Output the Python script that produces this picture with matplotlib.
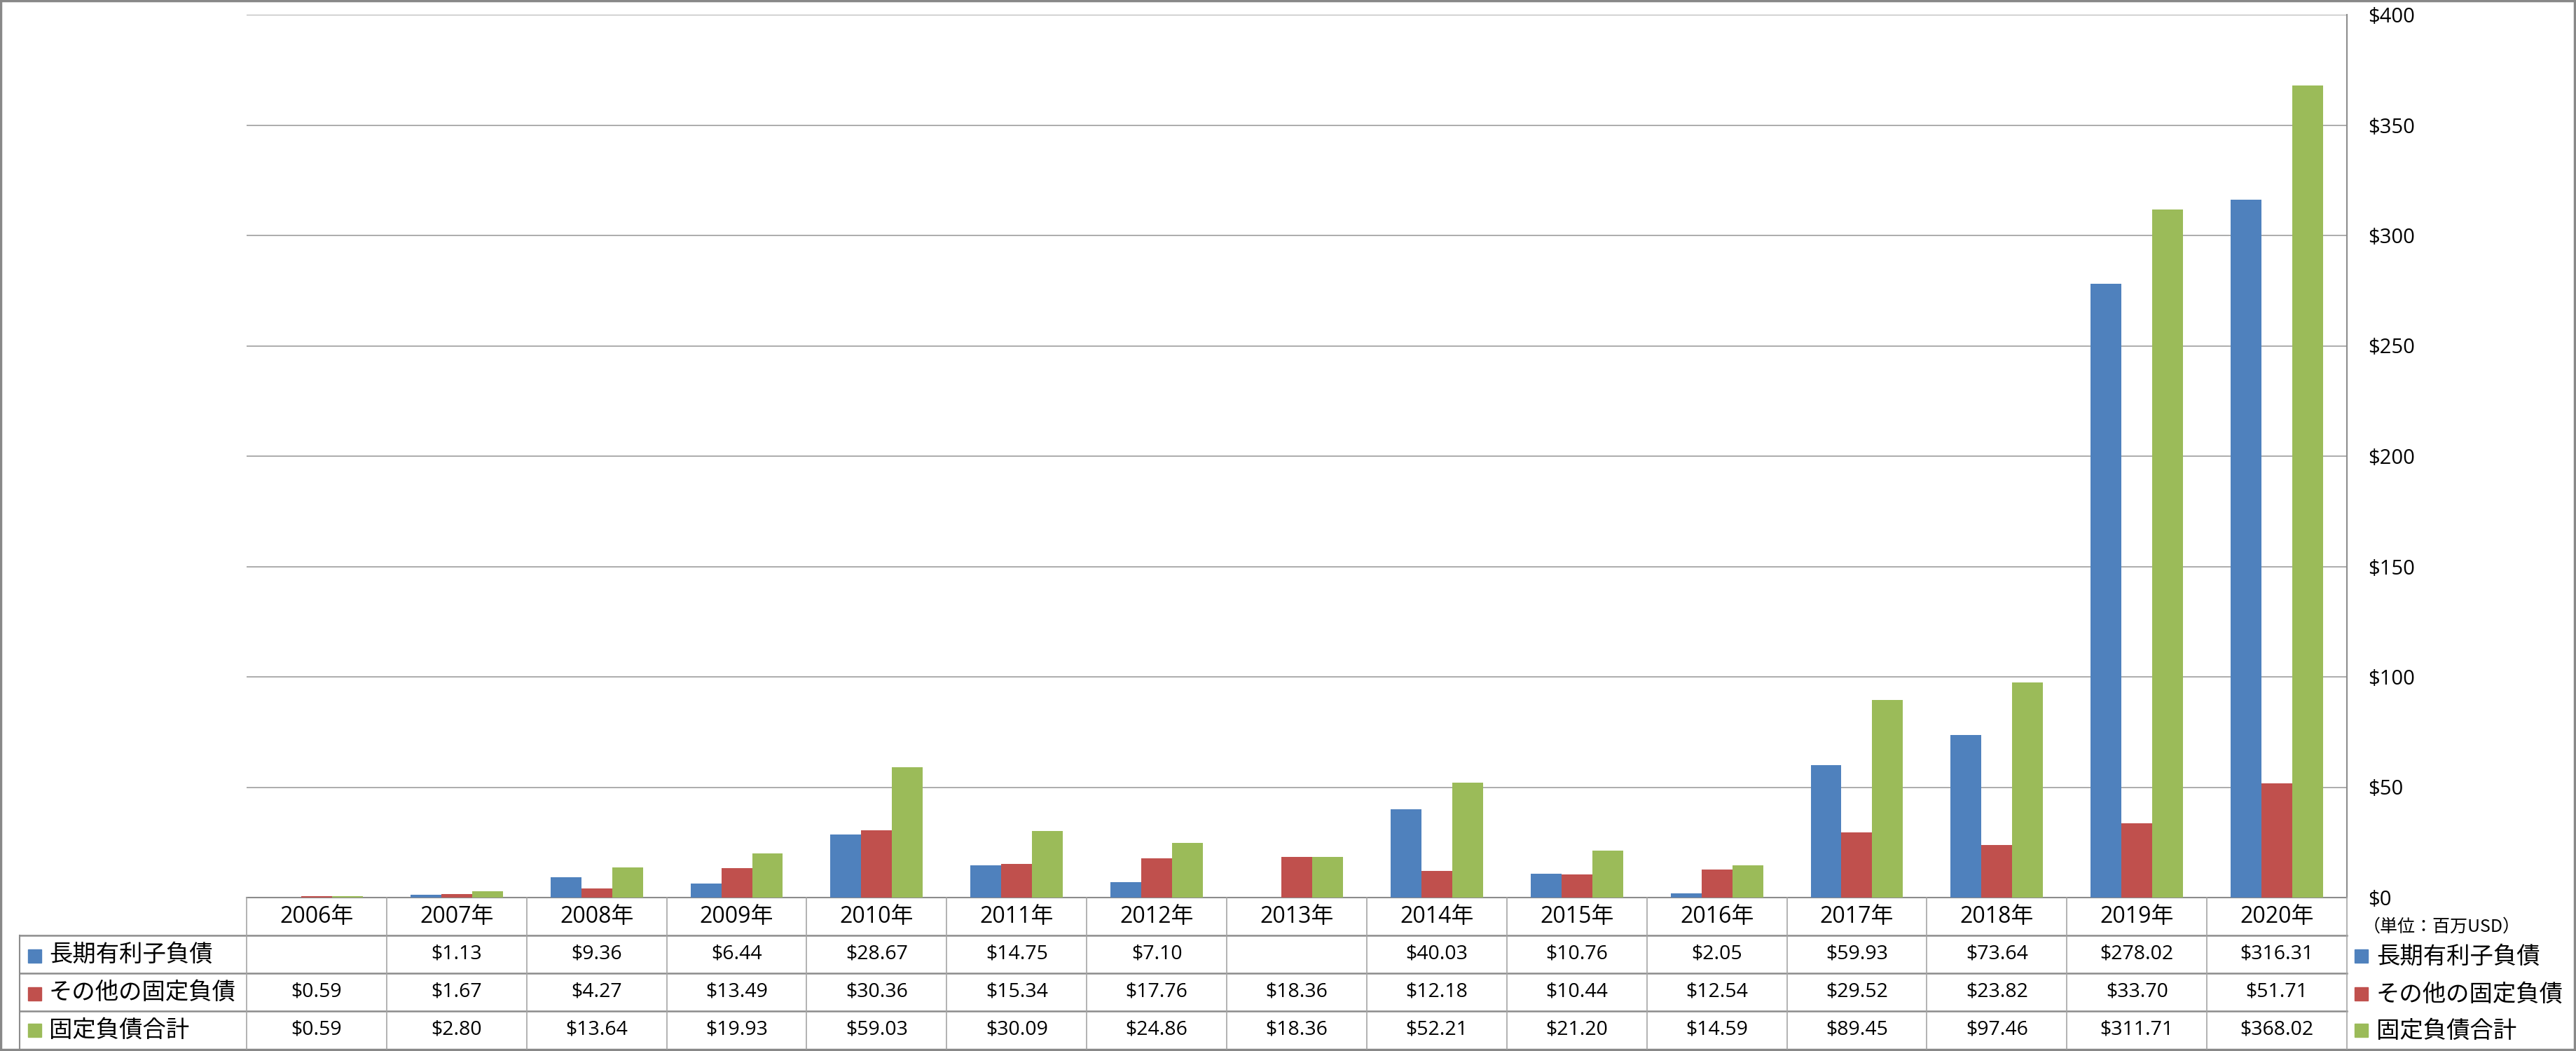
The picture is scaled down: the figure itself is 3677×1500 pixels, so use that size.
import numpy as np
import matplotlib
matplotlib.use("Agg")
import matplotlib.pyplot as plt
from matplotlib.patches import Rectangle

plt.rcParams['font.family'] = ['Open Sans', 'Noto Sans CJK JP', 'DejaVu Sans']

# ========== データ ==========
years = ["2006年", "2007年", "2008年", "2009年", "2010年", "2011年", "2012年", "2013年",
         "2014年", "2015年", "2016年", "2017年", "2018年", "2019年", "2020年"]
series_names = ["長期有利子負債", "その他の固定負債", "固定負債合計"]
long_term_debt = [None, 1.13, 9.36, 6.44, 28.67, 14.75, 7.10, None,
                  40.03, 10.76, 2.05, 59.93, 73.64, 278.02, 316.31]
other_fixed = [0.59, 1.67, 4.27, 13.49, 30.36, 15.34, 17.76, 18.36,
               12.18, 10.44, 12.54, 29.52, 23.82, 33.70, 51.71]
fixed_total = [0.59, 2.80, 13.64, 19.93, 59.03, 30.09, 24.86, 18.36,
               52.21, 21.20, 14.59, 89.45, 97.46, 311.71, 368.02]
y_ticks = [0, 50, 100, 150, 200, 250, 300, 350, 400]
unit_label = "（単位：百万USD）"
# ===========================

colors = ["#4F81BD", "#C0504D", "#9BBB59"]
series = [long_term_debt, other_fixed, fixed_total]

W, H = 3677, 1500
fig = plt.figure(figsize=(W / 100, H / 100), dpi=100)

# ピクセル座標のレイアウト
plot_l, plot_r, plot_t, plot_b = 352, 3350, 21, 1281
table_l, table_b = 28, 1497
col_w = (plot_r - plot_l) / len(years)

ax = fig.add_axes([plot_l / W, 1 - plot_b / H, (plot_r - plot_l) / W, (plot_b - plot_t) / H])
x = np.arange(len(years))
bw = 0.22
for i, (vals, c) in enumerate(zip(series, colors)):
    v = np.array([np.nan if a is None else a for a in vals], dtype=float)
    ax.bar(x + (i - 1) * bw, v, width=bw, color=c, zorder=3)

ax.set_xlim(-0.5, len(years) - 0.5)
ax.set_ylim(0, 400)
ax.set_yticks(y_ticks)
ax.set_yticklabels([f"${t}" for t in y_ticks])
ax.yaxis.tick_right()
ax.tick_params(axis='y', length=0, pad=22, labelsize=21)
ax.set_xticks([])
ax.yaxis.grid(True, color="#a6a6a6", linewidth=1.3, zorder=0)
for s in ["left", "top"]:
    ax.spines[s].set_visible(False)
ax.spines["right"].set_color("#8c8c8c")
ax.spines["right"].set_linewidth(1.5)
ax.spines["bottom"].set_color("#8c8c8c")
ax.spines["bottom"].set_linewidth(1.5)

# データテーブル
label_cols = (plot_l - table_l) / col_w
tax = fig.add_axes([table_l / W, 1 - table_b / H, (plot_r - table_l) / W, (table_b - plot_b) / H])
tax.set_xlim(-0.5 - label_cols, len(years) - 0.5)
tax.set_ylim(4, 0)
tax.axis("off")

lc = "#8c8c8c"
# 横線
for r in [1, 2, 3]:
    tax.plot([-0.5 - label_cols, len(years) - 0.5], [r, r], color=lc, lw=1.8, clip_on=False)
# 縦線
for k in range(len(years) + 1):
    tax.plot([k - 0.5, k - 0.5], [0, 4], color="#a6a6a6", lw=1.2, clip_on=False)
tax.plot([-0.5 - label_cols] * 2, [1, 4], color=lc, lw=1.5, clip_on=False)

for k, yr in enumerate(years):
    tax.text(k, 0.5, yr, ha="center", va="center", fontsize=23)

for r, (name, vals) in enumerate(zip(series_names, series), start=1):
    tax.text(-0.5 - label_cols + 0.21, r + 0.5, name, ha="left", va="center",
             fontsize=24, family=["Noto Sans CJK JP"])
    for k, v in enumerate(vals):
        if v is not None:
            tax.text(k, r + 0.5, f"${v:.2f}", ha="center", va="center", fontsize=20.5)

# 凡例マーカーと単位
ov = fig.add_axes([0, 0, 1, 1], zorder=-1)
ov.set_xlim(0, W)
ov.set_ylim(H, 0)
ov.axis("off")
ov.text(3373, 1323, unit_label, ha="left", va="center", fontsize=18, family=["Noto Sans CJK JP"])
row_centers = [1365, 1419, 1471]
for name, c, yc in zip(series_names, colors, row_centers):
    ov.add_patch(Rectangle((40, yc - 10), 19, 19, color=c))
    ov.add_patch(Rectangle((3361, yc - 10), 19, 19, color=c))
    ov.text(3392, yc, name, ha="left", va="center", fontsize=24, family=["Noto Sans CJK JP"])

# 外枠
ov.add_patch(Rectangle((1, 1), W - 3, H - 3, fill=False, edgecolor="#888888", lw=2.5))

fig.savefig("out.png", dpi=100)
